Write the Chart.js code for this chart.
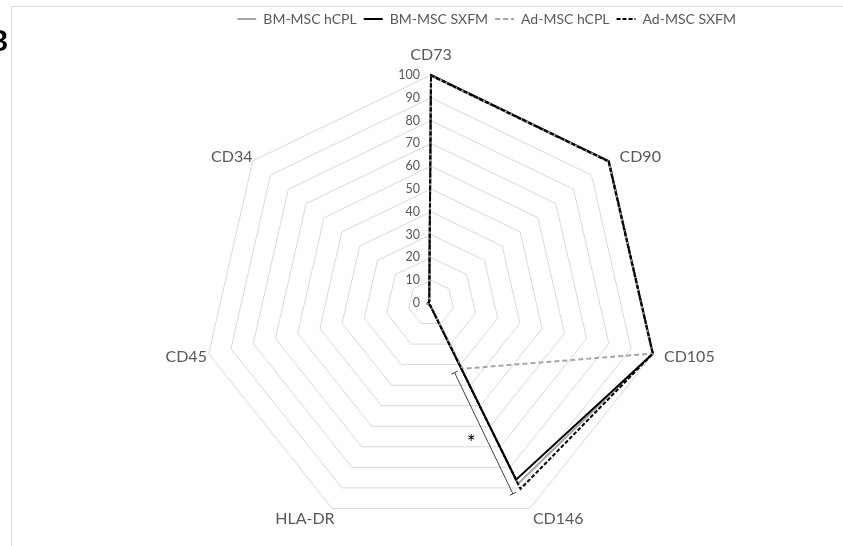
<!DOCTYPE html>
<html><head><meta charset="utf-8">
<script src="https://cdn.jsdelivr.net/npm/chart.js@4.4.0/dist/chart.umd.min.js"></script>
<style>
html,body{margin:0;padding:0;background:#fff;overflow:hidden}
#wrap{position:relative;width:843px;height:546px;overflow:hidden}
#frame{position:absolute;left:11px;top:6px;width:900px;height:600px;border-left:1px solid #dedede;border-top:1px solid #dedede}
#panel{position:absolute;left:-11px;top:22px;font:bold 29px Lato, sans-serif;color:#000;z-index:2}
canvas{position:absolute;left:0;top:0}
</style></head><body>
<div id="wrap"><div id="frame"></div><canvas id="c" width="843" height="546"></canvas><div id="panel">B</div></div>
<script>
const categories = ['CD73', 'CD90', 'CD105', 'CD146', 'HLA-DR', 'CD45', 'CD34'];
const seriesNames = ['BM-MSC hCPL', 'BM-MSC SXFM', 'Ad-MSC hCPL', 'Ad-MSC SXFM'];
const bmHcpl = [99.6, 99.5, 99.6, 88, 1, 1.5, 1];
const bmSxfm = [100, 99.8, 99.8, 86, 1, 1.5, 1];
const adHcpl = [99.8, 99.6, 99.7, 32, 1, 1.5, 1];
const adSxfm = [99.8, 99.6, 99.8, 90.5, 1, 1.5, 1];
const tickValues = [0, 10, 20, 30, 40, 50, 60, 70, 80, 90, 100];
const sigCategory = 'CD146';
const sigFrom = 32;
const sigTo = 91;
const sigLabel = '*';

const FONT = 'Lato, sans-serif';
const TXT = '#595959';

const legendSpacer = {
  id: 'legendSpacer',
  beforeInit(chart) {
    const orig = chart.legend.fit;
    chart.legend.fit = function () { orig.call(this); this.height += 39; };
  }
};

const overlay = {
  id: 'overlay',
  afterDatasetsDraw(chart) {
    const s = chart.scales.r, ctx = chart.ctx;
    ctx.save();
    ctx.fillStyle = TXT;
    ctx.font = '12.5px ' + FONT;
    ctx.textAlign = 'right';
    ctx.textBaseline = 'middle';
    tickValues.forEach(v => {
      const y = s.yCenter - s.getDistanceFromCenterForValue(v);
      ctx.fillText(String(v), s.xCenter - 11, y);
    });
    ctx.font = '16px ' + FONT;
    categories.forEach((c, i) => {
      const ang = s.getIndexAngle(i);
      const sn = Math.sin(ang), cs = Math.cos(ang);
      if (Math.abs(sn) < 0.01) {
        const p = s.getPointPosition(i, s.drawingArea + 14);
        ctx.textAlign = 'center';
        ctx.textBaseline = 'bottom';
        ctx.fillText(c, p.x, p.y + 2);
      } else {
        const p = s.getPointPosition(i, s.drawingArea + 8);
        ctx.textBaseline = 'middle';
        const dy = cs < -0.5 ? 3 : 1;
        if (sn > 0) {
          ctx.textAlign = 'left';
          ctx.fillText(c, p.x + 4 + 5 * Math.min(0, cs), p.y + dy);
        } else {
          ctx.textAlign = 'right';
          ctx.fillText(c, p.x + 6, p.y + dy);
        }
      }
    });
    // significance bracket
    const i = categories.indexOf(sigCategory);
    const a = s.getPointPositionForValue(i, sigFrom);
    const b = s.getPointPositionForValue(i, sigTo);
    const dx = b.x - a.x, dy = b.y - a.y, L = Math.hypot(dx, dy);
    const ux = dx / L, uy = dy / L, px = -uy, py = ux;
    const off = 9, cap = 3.5;
    ctx.strokeStyle = '#404040';
    ctx.lineWidth = 1;
    ctx.beginPath();
    const ax = a.x + px * off, ay = a.y + py * off, bx = b.x + px * off, by = b.y + py * off;
    ctx.moveTo(ax, ay); ctx.lineTo(bx, by);
    ctx.moveTo(ax - px * cap, ay - py * cap); ctx.lineTo(ax + px * cap, ay + py * cap);
    ctx.moveTo(bx - px * cap, by - py * cap); ctx.lineTo(bx + px * cap, by + py * cap);
    ctx.stroke();
    const m = s.getPointPositionForValue(i, (sigFrom + sigTo) / 2);
    ctx.fillStyle = '#000';
    ctx.font = '21px ' + FONT;
    ctx.textAlign = 'center';
    ctx.textBaseline = 'middle';
    ctx.fillText(sigLabel, m.x + px * 23, m.y + py * 23 + 4);
    ctx.restore();
  }
};

const styles = [
  {color: '#a6a6a6', dash: []},
  {color: '#000000', dash: []},
  {color: '#a6a6a6', dash: [5, 3]},
  {color: '#000000', dash: [4, 2]}
];
const values = [bmHcpl, bmSxfm, adHcpl, adSxfm];

new Chart(document.getElementById('c'), {
  type: 'radar',
  data: {
    labels: categories,
    datasets: seriesNames.map((n, k) => ({
      label: n,
      data: values[k],
      borderColor: styles[k].color,
      backgroundColor: styles[k].color,
      borderDash: styles[k].dash,
      borderWidth: 2,
      fill: false,
      pointRadius: 0,
      tension: 0,
      order: 4 - k
    }))
  },
  options: {
    responsive: false,
    animation: false,
    layout: {padding: {left: 119, right: 100, top: 5, bottom: 15}},
    plugins: {
      legend: {
        position: 'top',
        align: 'end',
        labels: {
          usePointStyle: true,
          pointStyle: 'line',
          pointStyleWidth: 19,
          padding: 7,
          color: TXT,
          font: {family: FONT, size: 14},
          sort: (a, b) => a.datasetIndex - b.datasetIndex,
          generateLabels(chart) {
            const items = Chart.defaults.plugins.legend.labels.generateLabels(chart);
            items.forEach(it => {
              const ds = chart.data.datasets[it.datasetIndex];
              it.lineDash = ds.borderDash;
              it.strokeStyle = ds.borderColor;
              it.lineWidth = 2;
            });
            return items;
          }
        }
      },
      tooltip: {enabled: false}
    },
    scales: {
      r: {
        min: 0, max: 100,
        ticks: {display: false, stepSize: 10},
        grid: {color: '#d9d9d9', lineWidth: 1},
        angleLines: {display: false},
        pointLabels: {display: false}
      }
    }
  },
  plugins: [legendSpacer, overlay]
});
</script>
</body></html>
